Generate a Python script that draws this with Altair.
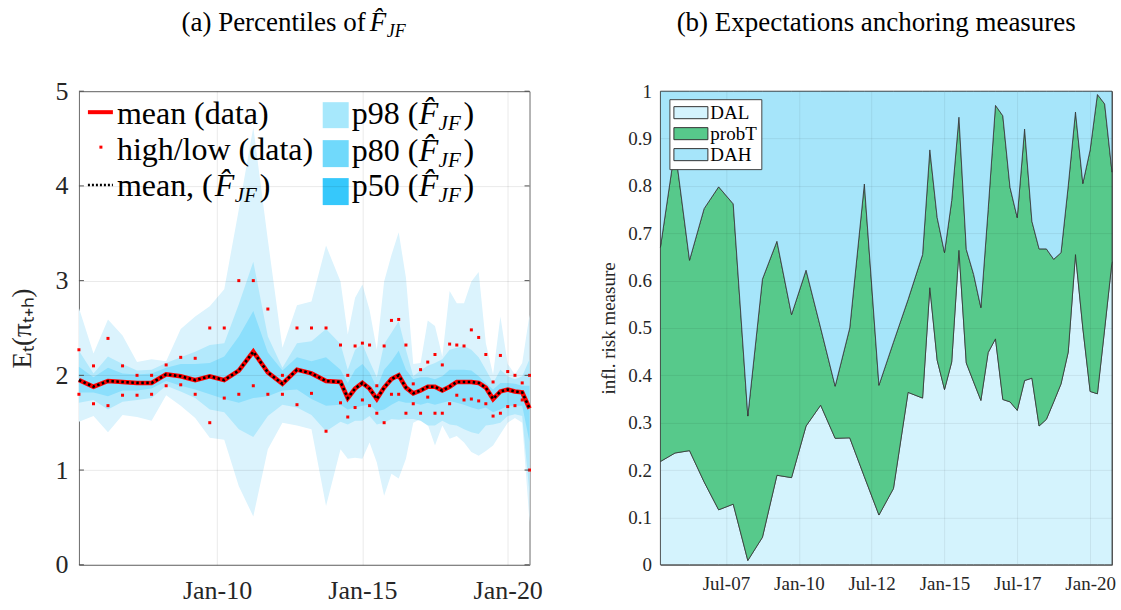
import altair as alt
import pandas as pd

# Survey dates: semi-annual (Apr/Oct) through 2013, quarterly afterwards
dates = [
    "2005-04-01", "2005-10-01", "2006-04-01", "2006-10-01", "2007-04-01", "2007-10-01",
    "2008-04-01", "2008-10-01", "2009-04-01", "2009-10-01", "2010-04-01", "2010-10-01",
    "2011-04-01", "2011-10-01", "2012-04-01", "2012-10-01", "2013-04-01", "2013-10-01",
    "2014-04-01", "2014-07-01", "2014-10-01", "2015-01-01", "2015-04-01", "2015-07-01",
    "2015-10-01", "2016-01-01", "2016-04-01", "2016-07-01", "2016-10-01", "2017-01-01",
    "2017-04-01", "2017-07-01", "2017-10-01", "2018-01-01", "2018-04-01", "2018-07-01",
    "2018-10-01", "2019-01-01", "2019-04-01", "2019-07-01", "2019-10-01", "2020-01-01",
    "2020-04-01", "2020-07-01", "2020-10-01",
]

# Panel (a): survey mean, high and low forecasts
mean_data = [1.95, 1.88, 1.94, 1.93, 1.92, 1.92, 2.01, 1.99, 1.95, 1.99, 1.95, 2.05, 2.25, 2.03, 1.91,
             2.06, 2.02, 1.94, 1.93, 1.76, 1.86, 1.92, 1.86, 1.75, 1.87, 1.96, 2.00, 1.87, 1.81, 1.84,
             1.88, 1.88, 1.84, 1.88, 1.93, 1.93, 1.93, 1.92, 1.87, 1.75, 1.83, 1.85, 1.83, 1.82, 1.65]
mean_model = list(mean_data)
high_data = [2.27, 2.10, 2.39, 2.10, 2.00, 2.00, 2.11, 2.19, 2.18, 2.50, 2.50, 3.00, 3.00, 2.70, 2.00,
             2.50, 2.50, 2.50, 2.32, 2.00, 2.31, 2.34, 2.32, 1.89, 2.31, 2.58, 2.59, 2.32, 1.91, 2.06,
             2.14, 2.22, 2.11, 2.33, 2.32, 2.31, 2.48, 2.40, 2.22, 1.93, 2.21, 2.04, 2.00, 1.92, 2.00]
low_data = [1.80, 1.70, 1.68, 1.79, 1.79, 1.80, 1.89, 1.90, 1.80, 1.50, 1.76, 1.80, 1.89, 1.80, 1.80,
            1.69, 1.81, 1.41, 1.71, 1.56, 1.66, 1.74, 1.68, 1.60, 1.50, 1.80, 1.80, 1.60, 1.70, 1.60,
            1.77, 1.60, 1.60, 1.70, 1.79, 1.74, 1.75, 1.73, 1.70, 1.57, 1.60, 1.67, 1.68, 1.74, 1.00]

# Percentile bands of the fitted distribution
p98_hi = [2.71, 2.23, 2.59, 2.42, 2.14, 2.17, 2.15, 2.49, 2.62, 2.73, 2.91, 3.75, 4.62, 3.43, 2.29,
          2.74, 2.78, 3.37, 2.99, 2.43, 2.82, 2.96, 2.69, 2.27, 2.99, 3.27, 3.51, 3.03, 2.12, 2.13,
          2.58, 2.52, 2.20, 2.89, 2.76, 2.76, 2.99, 3.09, 2.34, 2.01, 2.62, 2.12, 2.01, 2.13, 2.64]
p98_lo = [1.51, 1.57, 1.40, 1.58, 1.56, 1.52, 1.79, 1.68, 1.55, 1.34, 1.32, 0.83, 0.51, 1.22, 1.50,
          1.47, 1.43, 0.62, 1.22, 1.12, 1.13, 1.12, 1.29, 1.08, 0.73, 0.96, 0.91, 1.12, 1.50, 1.54,
          1.48, 1.26, 1.47, 1.33, 1.36, 1.29, 1.19, 1.15, 1.20, 1.26, 1.38, 1.50, 1.55, 1.50, 0.45]
p80_hi = [2.26, 2.02, 2.20, 2.12, 2.05, 2.06, 2.13, 2.19, 2.25, 2.32, 2.34, 2.75, 3.20, 2.41, 2.08,
          2.34, 2.36, 2.49, 2.33, 2.06, 2.27, 2.33, 2.15, 1.98, 2.33, 2.45, 2.57, 2.27, 1.99, 2.05,
          2.10, 2.13, 2.17, 2.27, 2.29, 2.31, 2.27, 2.19, 2.06, 1.92, 2.06, 1.99, 1.96, 1.99, 2.17]
p80_lo = [1.71, 1.74, 1.64, 1.72, 1.74, 1.76, 1.89, 1.83, 1.76, 1.64, 1.61, 1.43, 1.35, 1.57, 1.69,
          1.66, 1.58, 1.41, 1.51, 1.48, 1.52, 1.52, 1.57, 1.48, 1.50, 1.54, 1.53, 1.54, 1.54, 1.52,
          1.47, 1.47, 1.52, 1.48, 1.47, 1.43, 1.40, 1.38, 1.47, 1.48, 1.50, 1.57, 1.59, 1.57, 0.75]
p50_hi = [2.09, 1.98, 2.08, 2.02, 2.01, 2.02, 2.08, 2.12, 2.12, 2.13, 2.20, 2.41, 2.68, 2.24, 2.05,
          2.19, 2.15, 2.19, 2.06, 1.92, 2.06, 2.12, 2.03, 1.87, 2.06, 2.15, 2.26, 2.06, 1.96, 1.98,
          1.98, 1.96, 1.99, 2.06, 2.06, 2.06, 2.05, 1.99, 1.92, 1.85, 1.92, 1.92, 1.91, 1.89, 1.89]
p50_lo = [1.82, 1.82, 1.78, 1.84, 1.84, 1.86, 1.94, 1.89, 1.85, 1.80, 1.75, 1.71, 1.76, 1.78, 1.84,
          1.85, 1.75, 1.68, 1.69, 1.64, 1.66, 1.68, 1.69, 1.62, 1.64, 1.69, 1.73, 1.71, 1.71, 1.69,
          1.71, 1.69, 1.71, 1.73, 1.71, 1.69, 1.66, 1.64, 1.66, 1.61, 1.64, 1.68, 1.68, 1.68, 1.30]

# Panel (b): anchoring measures (DAH is the remainder to one)
dal = [0.218, 0.236, 0.241, 0.175, 0.116, 0.128, 0.009, 0.058, 0.189, 0.184, 0.293, 0.337, 0.267,
       0.268, 0.186, 0.105, 0.161, 0.364, 0.352, 0.585, 0.432, 0.370, 0.428, 0.664, 0.426, 0.386,
       0.347, 0.448, 0.477, 0.349, 0.344, 0.326, 0.389, 0.394, 0.293, 0.307, 0.344, 0.382, 0.449,
       0.655, 0.500, 0.366, 0.361, 0.498, 0.640]
probt = [0.452, 0.644, 0.402, 0.577, 0.682, 0.634, 0.305, 0.545, 0.494, 0.344, 0.329, 0.163, 0.110,
         0.232, 0.618, 0.274, 0.309, 0.196, 0.303, 0.291, 0.301, 0.289, 0.341, 0.281, 0.240, 0.227,
         0.196, 0.302, 0.493, 0.599, 0.453, 0.407, 0.531, 0.331, 0.374, 0.360, 0.301, 0.277, 0.351,
         0.301, 0.305, 0.510, 0.632, 0.475, 0.189]

left_yticks = [0, 1, 2, 3, 4, 5]
right_yticks = [0, 0.1, 0.2, 0.3, 0.4, 0.5, 0.6, 0.7, 0.8, 0.9, 1]
series_names = ["DAL", "probT", "DAH"]

FONT = "Liberation Serif"
INK = "#262626"
W_L, H_L = 451, 474
W_R, H_R = 452, 474
GAP = 131
DATE_LABEL = "utcFormat(datum.value, '%b-%y')"


def utc(y, m):
    return alt.DateTime(year=y, month=m, date=1, utc=True)


X_SCALE = alt.Scale(type="utc", domain=[utc(2005, 4), utc(2020, 10)], nice=False)

left_df = pd.DataFrame({
    "date": dates, "mean": mean_data, "model": mean_model, "high": high_data, "low": low_data,
    "p98_lo": p98_lo, "p98_hi": p98_hi, "p80_lo": p80_lo, "p80_hi": p80_hi,
    "p50_lo": p50_lo, "p50_hi": p50_hi,
})

rows = []
for i, d in enumerate(dates):
    parts = [dal[i], probt[i], 1 - dal[i] - probt[i]]
    for r, (name, v) in enumerate(zip(series_names, parts)):
        rows.append({"date": d, "series": name, "rank": r, "value": v})
right_df = pd.DataFrame(rows)

one = pd.DataFrame({"k": [0]})

# ---------- panel (a) ----------
x_axis_l = alt.Axis(values=[utc(2010, 1), utc(2015, 1), utc(2020, 1)], labelExpr=DATE_LABEL,
                    labelFont=FONT, labelFontSize=26, labelColor=INK,
                    tickSize=0, labelPadding=13, domain=False, grid=True, gridColor="#000",
                    gridOpacity=0.09, title=None, zindex=1)
y_scale_l = alt.Scale(domain=[0, 5], nice=False)
y_axis_l = alt.Axis(values=left_yticks, labelFont=FONT, labelFontSize=26, labelColor=INK,
                    tickSize=0, labelPadding=11, domain=False, grid=True, gridColor="#000",
                    gridOpacity=0.09, title="Eₜ(πₜ₊ₕ)", titleFont=FONT, titleFontSize=27,
                    titleFontWeight="normal", titleColor=INK, titlePadding=18, zindex=1)


def xl():
    return alt.X("date:T", scale=X_SCALE, axis=x_axis_l)


def yl(field):
    return alt.Y(f"{field}:Q", scale=y_scale_l, axis=y_axis_l)


base_l = alt.Chart(left_df)
band98 = base_l.mark_area(color="#dbf3fd", opacity=1).encode(x=xl(), y=yl("p98_lo"), y2="p98_hi:Q")
band80 = base_l.mark_area(color="#b3e9fc", opacity=1).encode(x=xl(), y=yl("p80_lo"), y2="p80_hi:Q")
band50 = base_l.mark_area(color="#8cdffc", opacity=1).encode(x=xl(), y=yl("p50_lo"), y2="p50_hi:Q")
mean_line = base_l.mark_line(color="#ff0000", strokeWidth=4.5).encode(x=xl(), y=yl("mean"))
model_line = base_l.mark_line(color="#000000", strokeWidth=2.6, strokeDash=[2.5, 2.5]).encode(
    x=xl(), y=yl("model"))
high_pts = base_l.mark_square(color="#ff0000", size=9, opacity=1).encode(x=xl(), y=yl("high"))
low_pts = base_l.mark_square(color="#ff0000", size=9, opacity=1).encode(x=xl(), y=yl("low"))

tick_df = pd.DataFrame({"v": left_yticks})
ticks_left = alt.Chart(tick_df).mark_rule(color="#555", strokeWidth=1).encode(
    y=alt.Y("v:Q", scale=y_scale_l, axis=y_axis_l), x=alt.value(0), x2=alt.value(5))
ticks_right = alt.Chart(tick_df).mark_rule(color="#555", strokeWidth=1).encode(
    y=alt.Y("v:Q", scale=y_scale_l, axis=y_axis_l), x=alt.value(W_L - 5), x2=alt.value(W_L))


def piece(s, x, y, size, italic=False, align="left", color="black"):
    return alt.Chart(one).mark_text(
        font=FONT, fontSize=size, fontStyle="italic" if italic else "normal",
        align=align, baseline="alphabetic", color=color,
    ).encode(x=alt.value(x), y=alt.value(y), text=alt.value(s))


def hat_label(prefix, x0, xf, y, size=32, sub=21):
    # prefix + italic F-hat with subscript JF, closed by a parenthesis
    return [
        piece(prefix, x0, y, size),
        piece("F\u0302", xf, y, size, italic=True),
        piece("JF", xf + 20, y + 6, sub, italic=True),
        piece(")", xf + 45, y, size),
    ]


legend_l = [
    alt.Chart(one).mark_rule(color="#ff0000", strokeWidth=4).encode(
        x=alt.value(9), x2=alt.value(34), y=alt.value(21)),
    piece("mean (data)", 38, 33, 32),
    alt.Chart(one).mark_square(color="#ff0000", size=9, opacity=1).encode(
        x=alt.value(22), y=alt.value(56)),
    piece("high/low (data)", 38, 69, 32),
    alt.Chart(one).mark_rule(color="#000", strokeWidth=2.5, strokeDash=[2, 2]).encode(
        x=alt.value(9), x2=alt.value(34), y=alt.value(94)),
    *hat_label("mean, (", 38, 136, 105),
    alt.Chart(one).mark_rect(color="#a7e8fc").encode(
        x=alt.value(244), x2=alt.value(270), y=alt.value(11), y2=alt.value(37)),
    alt.Chart(one).mark_rect(color="#70d9fb").encode(
        x=alt.value(244), x2=alt.value(270), y=alt.value(49), y2=alt.value(76)),
    alt.Chart(one).mark_rect(color="#36c8fb").encode(
        x=alt.value(244), x2=alt.value(270), y=alt.value(87), y2=alt.value(114)),
    *hat_label("p98 (", 273, 340, 33),
    *hat_label("p80 (", 273, 340, 70),
    *hat_label("p50 (", 273, 340, 105),
]

title_a = [
    piece("(a) Percentiles of", 287, -60, 27, align="right"),
    piece("F\u0302", 291, -60, 27, italic=True),
    piece("JF", 308, -54, 18, italic=True),
]

left = alt.layer(band98, band80, band50, mean_line, model_line, high_pts, low_pts,
                 ticks_left, ticks_right, *legend_l, *title_a).properties(width=W_L, height=H_L)

# ---------- panel (b) ----------
x_axis_r = alt.Axis(values=[utc(2007, 7), utc(2010, 1), utc(2012, 7), utc(2015, 1), utc(2017, 7),
                            utc(2020, 1)], labelExpr=DATE_LABEL, labelFont=FONT,
                    labelFontSize=19, labelColor=INK, tickSize=0, labelPadding=10, domain=False,
                    grid=True, gridColor="#000", gridOpacity=0.07, title=None, zindex=1)
y_axis_r = alt.Axis(values=right_yticks, format=".1~f", labelFont=FONT, labelFontSize=19,
                    labelColor=INK, tickSize=0, labelPadding=9, domain=False, grid=True,
                    gridColor="#000", gridOpacity=0.07, title="infl. risk measure",
                    titleFont=FONT, titleFontSize=19, titleFontWeight="normal", titleColor=INK,
                    titlePadding=9, zindex=1)

# legend sits in the top-left corner of panel (b); offsets are from the left panel's origin.
# Swatch path is a wide rectangle anchored at the symbol's left edge.
areas = alt.Chart(right_df).mark_area(stroke="#333333", strokeWidth=0.8, opacity=1).encode(
    x=alt.X("date:T", scale=X_SCALE, axis=x_axis_r),
    y=alt.Y("value:Q", stack="zero", scale=alt.Scale(domain=[0, 1], nice=False), axis=y_axis_r),
    color=alt.Color("series:N",
                    scale=alt.Scale(domain=series_names, range=["#d4f3fd", "#57c98b", "#a6e5fa"]),
                    legend=alt.Legend(orient="none", legendX=W_L + GAP + 9, legendY=8, title=None,
                                      symbolType="M-1,-0.67L2.78,-0.67L2.78,0.67L-1,0.67Z",
                                      symbolSize=324, symbolStrokeColor="#333333",
                                      symbolStrokeWidth=1, symbolOpacity=1,
                                      labelFont=FONT, labelFontSize=19, labelColor="#000",
                                      labelOffset=18, rowPadding=1, padding=4,
                                      fillColor="white", strokeColor="#444444")),
    order=alt.Order("rank:Q", sort="ascending"),
)

title_b = piece("(b) Expectations anchoring measures", 216, -60, 27, align="center")

right = alt.layer(areas, title_b).properties(width=W_R, height=H_R)

chart = alt.hconcat(left, right, spacing=GAP, bounds="flush").properties(
    padding={"left": 8, "top": 8, "right": 5, "bottom": 5}
).configure_view(stroke="#6a6a6a", strokeWidth=1).configure_concat(spacing=GAP)

chart.save("out.html", embed_options={"renderer": "svg", "actions": False})
